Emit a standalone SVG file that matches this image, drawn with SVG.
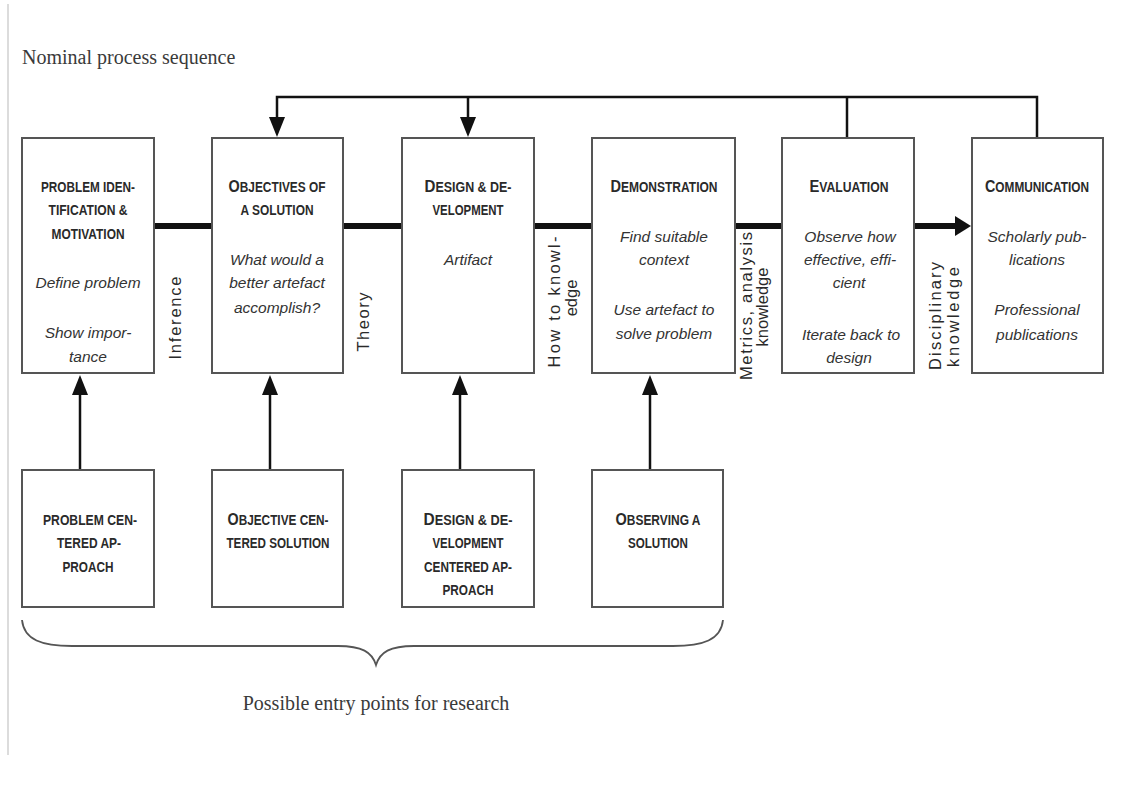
<svg xmlns="http://www.w3.org/2000/svg" width="1139" height="787" viewBox="0 0 1139 787">
  <style>
    .bg { fill: #ffffff; }
    .edge-line { stroke: #d0d0d0; stroke-width: 1.5; fill: none; }
    .box { fill: #ffffff; stroke: #555555; stroke-width: 2; }
    .title { font-family: "Liberation Sans", Arial, sans-serif; font-weight: bold; font-size: 14px; fill: #2a2a2a; text-anchor: middle; }
    .big { font-size: 17px; }
    .body { font-family: "Liberation Sans", Arial, sans-serif; font-style: italic; font-size: 15.5px; fill: #333333; text-anchor: middle; }
    .side { font-family: "Liberation Sans", Arial, sans-serif; font-size: 16.5px; fill: #2a2a2a; text-anchor: middle; }
    .serif { font-family: "Liberation Serif", "Times New Roman", serif; fill: #3a3a3a; }
    .flow { stroke: #111111; stroke-width: 6; fill: none; }
    .link { stroke: #111111; stroke-width: 2.5; fill: none; }
    .brace { stroke: #555555; stroke-width: 1.8; fill: none; }
  </style>
  <defs>
    <marker id="head" markerUnits="userSpaceOnUse" viewBox="0 0 20 16" markerWidth="20" markerHeight="16" refX="1" refY="8" orient="auto">
      <path d="M0,0 L20,8 L0,16 Z" fill="#111111"/>
    </marker>
    <marker id="headBig" markerUnits="userSpaceOnUse" viewBox="0 0 16 20" markerWidth="16" markerHeight="20" refX="1" refY="10" orient="auto">
      <path d="M0,0 L16,10 L0,20 Z" fill="#111111"/>
    </marker>
  </defs>

  <rect class="bg" x="0" y="0" width="1139" height="787"/>
  <line class="edge-line" x1="8" y1="4" x2="8" y2="755"/>

  <text class="serif" x="22" y="64" font-size="20">Nominal process sequence</text>

  <!-- connectors -->
  <g id="connectors">
    <!-- main process flow -->
    <line class="flow" x1="154" y1="226" x2="956" y2="226" marker-end="url(#headBig)"/>
    <!-- feedback loops from evaluation and communication -->
    <path class="link" d="M1037,139 V97 H277 V118" marker-end="url(#head)"/>
    <line class="link" x1="847" y1="139" x2="847" y2="97"/>
    <line class="link" x1="468" y1="97" x2="468" y2="118" marker-end="url(#head)"/>
    <!-- entry points -->
    <line class="link" x1="80" y1="470" x2="80" y2="394" marker-end="url(#head)"/>
    <line class="link" x1="270" y1="470" x2="270" y2="394" marker-end="url(#head)"/>
    <line class="link" x1="460" y1="470" x2="460" y2="394" marker-end="url(#head)"/>
    <line class="link" x1="650" y1="470" x2="650" y2="394" marker-end="url(#head)"/>
  </g>

  <!-- flow labels -->
  <g id="flow-labels">
    <text class="side" transform="translate(181,318) rotate(-90)" textLength="83" lengthAdjust="spacing">Inference</text>
    <text class="side" transform="translate(369,322) rotate(-90)" textLength="59" lengthAdjust="spacing">Theory</text>
    <text class="side" transform="translate(560,302) rotate(-90)" textLength="131" lengthAdjust="spacing">How to  knowl-</text>
    <text class="side" transform="translate(577,298) rotate(-90)">edge</text>
    <text class="side" transform="translate(752,306) rotate(-90)" textLength="148" lengthAdjust="spacing">Metrics, analysis</text>
    <text class="side" transform="translate(768,307) rotate(-90)">knowledge</text>
    <text class="side" transform="translate(941,316) rotate(-90)" textLength="108" lengthAdjust="spacing">Disciplinary</text>
    <text class="side" transform="translate(959,317) rotate(-90)" textLength="100" lengthAdjust="spacing">knowledge</text>
  </g>

  <!-- process activities -->
  <g id="problem-identification">
    <rect class="box" x="22" y="138" width="132" height="235"/>
    <text class="title" x="88" y="192" textLength="94" lengthAdjust="spacingAndGlyphs">PROBLEM IDEN-</text>
    <text class="title" x="88" y="215" textLength="79" lengthAdjust="spacingAndGlyphs">TIFICATION &amp;</text>
    <text class="title" x="88" y="239" textLength="73" lengthAdjust="spacingAndGlyphs">MOTIVATION</text>
    <text class="body" x="88" y="288">Define problem</text>
    <text class="body" x="88" y="338">Show impor-</text>
    <text class="body" x="88" y="362">tance</text>
  </g>

  <g id="objectives">
    <rect class="box" x="212" y="138" width="131" height="235"/>
    <text class="title" x="277" y="192" textLength="97" lengthAdjust="spacingAndGlyphs"><tspan class="big">O</tspan>BJECTIVES OF</text>
    <text class="title" x="277" y="215" textLength="73" lengthAdjust="spacingAndGlyphs">A SOLUTION</text>
    <text class="body" x="277" y="265">What would a</text>
    <text class="body" x="277" y="288">better artefact</text>
    <text class="body" x="277" y="313">accomplish?</text>
  </g>

  <g id="design-development">
    <rect class="box" x="402" y="138" width="132" height="235"/>
    <text class="title" x="468" y="192" textLength="87" lengthAdjust="spacingAndGlyphs"><tspan class="big">D</tspan>ESIGN &amp; DE-</text>
    <text class="title" x="468" y="215" textLength="71" lengthAdjust="spacingAndGlyphs">VELOPMENT</text>
    <text class="body" x="468" y="265">Artifact</text>
  </g>

  <g id="demonstration">
    <rect class="box" x="592" y="138" width="143" height="235"/>
    <text class="title" x="664" y="192" textLength="107" lengthAdjust="spacingAndGlyphs"><tspan class="big">D</tspan>EMONSTRATION</text>
    <text class="body" x="664" y="242">Find suitable</text>
    <text class="body" x="664" y="265">context</text>
    <text class="body" x="664" y="315">Use artefact to</text>
    <text class="body" x="664" y="339">solve problem</text>
  </g>

  <g id="evaluation">
    <rect class="box" x="782" y="138" width="132" height="235"/>
    <text class="title" x="849" y="192" textLength="79" lengthAdjust="spacingAndGlyphs"><tspan class="big">E</tspan>VALUATION</text>
    <text class="body" x="850" y="242">Observe how</text>
    <text class="body" x="850" y="265">effective, effi-</text>
    <text class="body" x="849" y="288">cient</text>
    <text class="body" x="851" y="340">Iterate back to</text>
    <text class="body" x="849" y="363">design</text>
  </g>

  <g id="communication">
    <rect class="box" x="972" y="138" width="131" height="235"/>
    <text class="title" x="1037" y="192" textLength="104" lengthAdjust="spacingAndGlyphs"><tspan class="big">C</tspan>OMMUNICATION</text>
    <text class="body" x="1037" y="242">Scholarly pub-</text>
    <text class="body" x="1037" y="265">lications</text>
    <text class="body" x="1037" y="315">Professional</text>
    <text class="body" x="1037" y="340">publications</text>
  </g>

  <!-- research entry points -->
  <g id="problem-centered">
    <rect class="box" x="22" y="470" width="132" height="137"/>
    <text class="title" x="90" y="525" textLength="94" lengthAdjust="spacingAndGlyphs">PROBLEM CEN-</text>
    <text class="title" x="89" y="548" textLength="64" lengthAdjust="spacingAndGlyphs">TERED AP-</text>
    <text class="title" x="88" y="572" textLength="51" lengthAdjust="spacingAndGlyphs">PROACH</text>
  </g>

  <g id="objective-centered">
    <rect class="box" x="212" y="470" width="131" height="137"/>
    <text class="title" x="278" y="525" textLength="101" lengthAdjust="spacingAndGlyphs"><tspan class="big">O</tspan>BJECTIVE CEN-</text>
    <text class="title" x="278" y="548" textLength="103" lengthAdjust="spacingAndGlyphs">TERED SOLUTION</text>
  </g>

  <g id="design-centered">
    <rect class="box" x="402" y="470" width="132" height="137"/>
    <text class="title" x="468" y="525" textLength="89" lengthAdjust="spacingAndGlyphs"><tspan class="big">D</tspan>ESIGN &amp; DE-</text>
    <text class="title" x="468" y="548" textLength="71" lengthAdjust="spacingAndGlyphs">VELOPMENT</text>
    <text class="title" x="468" y="572" textLength="88" lengthAdjust="spacingAndGlyphs">CENTERED AP-</text>
    <text class="title" x="468" y="595" textLength="51" lengthAdjust="spacingAndGlyphs">PROACH</text>
  </g>

  <g id="observing-solution">
    <rect class="box" x="592" y="470" width="131" height="137"/>
    <text class="title" x="658" y="525" textLength="85" lengthAdjust="spacingAndGlyphs"><tspan class="big">O</tspan>BSERVING A</text>
    <text class="title" x="658" y="548" textLength="60" lengthAdjust="spacingAndGlyphs">SOLUTION</text>
  </g>

  <!-- brace grouping the entry points -->
  <path class="brace" d="M22,620 C24,640 42,646 72,646 L338,646 C362,646 372,652 376,665 C380,652 390,646 414,646 L673,646 C703,646 721,640 723,620"/>
  <text class="serif" x="376" y="710" font-size="20" text-anchor="middle">Possible entry points for research</text>
</svg>
